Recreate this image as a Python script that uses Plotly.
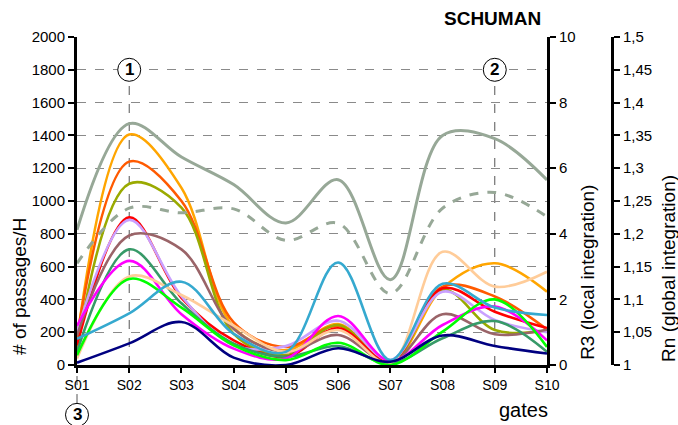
import plotly.graph_objects as go

# Gates along the route
gates = ["S01", "S02", "S03", "S04", "S05", "S06", "S07", "S08", "S09", "S10"]

# Passages per hour per observed path (left axis)
orange     = [150, 1405, 1080, 230, 90, 250, 10, 470, 620, 447]
orange_red = [170, 1240, 1000, 260, 110, 238, 15, 478, 418, 217]
olive      = [100, 1105, 960, 190, 60, 244, 5, 460, 213, 210]
red        = [120, 900, 410, 150, 50, 224, 20, 468, 325, 225]
lavender   = [200, 885, 420, 120, 115, 270, 30, 447, 274, 200]
mauve      = [180, 790, 705, 220, 80, 183, 15, 310, 187, 215]
sea_green  = [80, 705, 376, 130, 50, 116, 10, 163, 268, 80]
magenta    = [240, 635, 310, 100, 40, 299, 25, 244, 356, 150]
peach      = [40, 540, 427, 240, 80, 213, 10, 690, 478, 569]
green      = [60, 525, 350, 120, 30, 136, 0, 203, 400, 110]
sky_blue   = [160, 315, 508, 190, 80, 625, 30, 495, 350, 305]
navy       = [14, 132, 262, 45, 0, 102, 20, 180, 116, 70]

# Integration values
r3_local  = [4.12, 7.36, 6.34, 5.5, 4.33, 5.65, 2.6, 7.0, 6.9, 5.64]
rn_global = [1.155, 1.239, 1.232, 1.238, 1.19, 1.216, 1.109, 1.239, 1.263, 1.226]

# Axis ticks
left_ticks = list(range(0, 2001, 200))
r3_ticks = [0, 2, 4, 6, 8, 10]
rn_ticks = [1, 1.05, 1.1, 1.15, 1.2, 1.25, 1.3, 1.35, 1.4, 1.45, 1.5]
rn_labels = ["1", "1,05", "1,1", "1,15", "1,2", "1,25", "1,3", "1,35", "1,4", "1,45", "1,5"]

# Reference markers: gate index, vertical position (fraction of plot height), label
marker_gates = [1, 8, 0]
marker_levels = [0.9, 0.9, -0.152]
marker_texts = ["1", "2", "3"]

FONT = "Liberation Sans, Arial, sans-serif"
X_DOMAIN_END = 470 / 535

series = [
    (orange, "#FFA500"),
    (orange_red, "#FF5A00"),
    (olive, "#9AAA00"),
    (red, "#FF0000"),
    (lavender, "#C9A0FF"),
    (mauve, "#9A6468"),
    (sea_green, "#379A68"),
    (magenta, "#FF00FF"),
    (peach, "#FFCC99"),
    (green, "#00FF00"),
    (sky_blue, "#35A9CF"),
    (navy, "#000080"),
]


def gate_to_paper(index):
    """Horizontal paper position of a gate on the category axis."""
    return index / (len(gates) - 1) * X_DOMAIN_END


fig = go.Figure()

fig.add_trace(go.Scatter(
    x=gates, y=r3_local, yaxis="y2", mode="lines",
    line=dict(color="#97A897", width=3, shape="spline", smoothing=1.0),
    showlegend=False, hoverinfo="skip"))
fig.add_trace(go.Scatter(
    x=gates, y=rn_global, yaxis="y3", mode="lines",
    line=dict(color="#97A897", width=3, dash="dash", shape="spline", smoothing=1.0),
    showlegend=False, hoverinfo="skip"))

for values, color in series:
    fig.add_trace(go.Scatter(
        x=gates, y=values, mode="lines",
        line=dict(color=color, width=2.6, shape="spline", smoothing=1.0),
        showlegend=False))

# Dashed guide lines from the reference markers to the gate axis
guide = dict(color="#555555", width=1, dash="dash")
for g, lvl in zip(marker_gates, marker_levels):
    xp = gate_to_paper(g)
    y0, y1 = (0, lvl - 0.034) if lvl > 0 else (lvl + 0.036, 0)
    fig.add_shape(type="line", xref="paper", yref="paper", x0=xp, x1=xp,
                  y0=y0, y1=y1, line=guide, layer="below")

annotations = []
for g, lvl, txt in zip(marker_gates, marker_levels, marker_texts):
    xp = gate_to_paper(g)
    fig.add_shape(type="circle", xref="paper", yref="paper",
                  xsizemode="pixel", ysizemode="pixel",
                  xanchor=xp, yanchor=lvl, x0=-11.5, x1=11.5, y0=-11.5, y1=11.5,
                  fillcolor="white", line=dict(color="black", width=1),
                  layer="above")
    annotations.append(dict(text="<b>%s</b>" % txt, xref="paper", yref="paper",
                            x=xp, y=lvl, showarrow=False,
                            font=dict(family=FONT, size=17, color="black"),
                            xanchor="center", yanchor="middle"))

tickfont = dict(family=FONT, size=15, color="black")
title_font = dict(family=FONT, size=19, color="black")

annotations += [
    dict(text="# of passages/H", xref="paper", yref="paper",
         x=-0.1065, y=0.238, textangle=-90, showarrow=False,
         font=title_font, xanchor="center", yanchor="middle"),
    dict(text="R3 (local integration)", xref="paper", yref="paper",
         x=0.953, y=0.2835, textangle=-90, showarrow=False,
         font=title_font, xanchor="center", yanchor="middle"),
    dict(text="Rn (global integration)", xref="paper", yref="paper",
         x=1.1045, y=0.2957, textangle=-90, showarrow=False,
         font=title_font, xanchor="center", yanchor="middle"),
    dict(text="<b>SCHUMAN</b>", xref="paper", yref="paper",
         x=0.871, y=1.055, showarrow=False,
         font=dict(family=FONT, size=19, color="black"),
         xanchor="right", yanchor="middle"),
    dict(text="gates", xref="paper", yref="paper",
         x=0.8355, y=-0.137, showarrow=False,
         font=dict(family=FONT, size=20, color="black"),
         xanchor="center", yanchor="middle"),
]

fig.update_layout(
    width=678, height=425,
    margin=dict(l=77, r=66, t=37, b=60),
    paper_bgcolor="white", plot_bgcolor="white",
    template="none",
    font=dict(family=FONT, color="black"),
    xaxis=dict(
        domain=[0, X_DOMAIN_END], type="category", range=[0, 9],
        showline=True, linecolor="black", linewidth=3,
        ticks="outside", ticklen=5, tickwidth=2, tickcolor="black",
        tickfont=dict(family=FONT, size=14, color="black"),
        showgrid=False, zeroline=False, fixedrange=True),
    yaxis=dict(
        range=[0, 2000], tickvals=left_ticks,
        showline=True, linecolor="black", linewidth=3,
        ticks="outside", ticklen=6, tickwidth=2, tickcolor="black",
        tickfont=tickfont,
        showgrid=True, gridcolor="#8a8a8a", gridwidth=1, griddash="dash",
        zeroline=False),
    yaxis2=dict(
        range=[0, 10], tickvals=r3_ticks, overlaying="y", side="right",
        anchor="x",
        showline=True, linecolor="black", linewidth=3,
        ticks="outside", ticklen=6, tickwidth=2, tickcolor="black",
        tickfont=tickfont, showgrid=False, zeroline=False),
    yaxis3=dict(
        range=[1, 1.5], tickvals=rn_ticks, ticktext=rn_labels,
        overlaying="y", side="right", anchor="free", position=1.0,
        showline=True, linecolor="black", linewidth=3,
        ticks="outside", ticklen=6, tickwidth=2, tickcolor="black",
        tickfont=tickfont, showgrid=False, zeroline=False),
    annotations=annotations,
)

fig.write_html("out.html")
